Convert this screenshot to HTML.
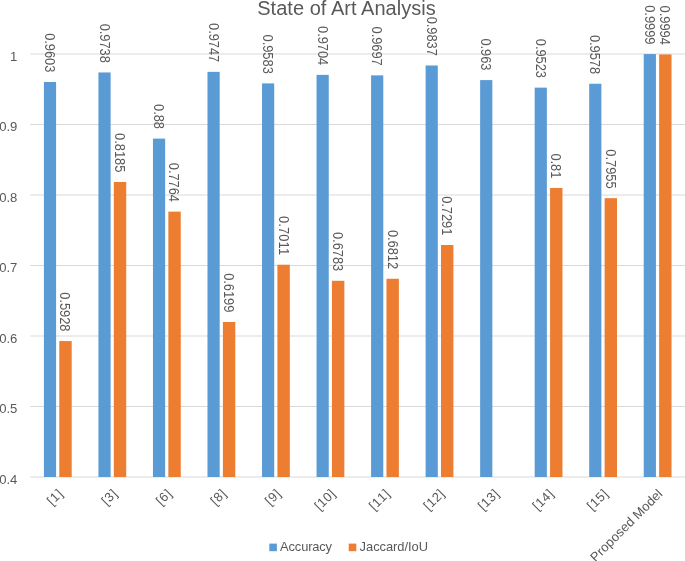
<!DOCTYPE html>
<html lang="en"><head><meta charset="utf-8"><title>State of Art Analysis</title>
<style>html,body{margin:0;padding:0;background:#fff;overflow:hidden;}svg{display:block;}text{font-family:"Liberation Sans",sans-serif;fill:#595959;}</style>
</head><body>
<svg width="685" height="561" viewBox="0 0 685 561">
<defs><filter id="soft" x="0" y="0" width="685" height="561" filterUnits="userSpaceOnUse" color-interpolation-filters="sRGB"><feGaussianBlur stdDeviation="0.35"/></filter></defs>
<rect x="0" y="0" width="685" height="561" fill="#ffffff"/>
<g filter="url(#soft)">
<rect x="-10" y="-10" width="705" height="581" fill="#ffffff"/>
<g stroke="#D9D9D9" stroke-width="1.15">
<line x1="30.3" y1="54.00" x2="685" y2="54.00"/>
<line x1="30.3" y1="124.50" x2="685" y2="124.50"/>
<line x1="30.3" y1="195.00" x2="685" y2="195.00"/>
<line x1="30.3" y1="265.50" x2="685" y2="265.50"/>
<line x1="30.3" y1="336.00" x2="685" y2="336.00"/>
<line x1="30.3" y1="406.50" x2="685" y2="406.50"/>
<line x1="30.3" y1="477.00" x2="685" y2="477.00"/>
</g>
<g font-size="13.1" text-anchor="end">
<text x="17.4" y="60.90" textLength="7.25">1</text>
<text x="17.4" y="131.40" textLength="18.11">0.9</text>
<text x="17.4" y="201.90" textLength="18.11">0.8</text>
<text x="17.4" y="272.40" textLength="18.11">0.7</text>
<text x="17.4" y="342.90" textLength="18.11">0.6</text>
<text x="17.4" y="413.40" textLength="18.11">0.5</text>
<text x="17.4" y="483.90" textLength="18.11">0.4</text>
</g>
<g fill="#5B9BD5">
<rect x="43.90" y="81.99" width="12.20" height="395.01"/>
<rect x="98.43" y="72.47" width="12.20" height="404.53"/>
<rect x="152.96" y="138.60" width="12.20" height="338.40"/>
<rect x="207.49" y="71.84" width="12.20" height="405.16"/>
<rect x="262.02" y="83.40" width="12.20" height="393.60"/>
<rect x="316.55" y="74.87" width="12.20" height="402.13"/>
<rect x="371.08" y="75.36" width="12.20" height="401.64"/>
<rect x="425.61" y="65.49" width="12.20" height="411.51"/>
<rect x="480.14" y="80.09" width="12.20" height="396.91"/>
<rect x="534.67" y="87.63" width="12.20" height="389.37"/>
<rect x="589.20" y="83.75" width="12.20" height="393.25"/>
<rect x="643.73" y="54.07" width="12.20" height="422.93"/>
</g>
<g fill="#ED7D31">
<rect x="59.30" y="341.08" width="12.40" height="135.92"/>
<rect x="113.83" y="181.96" width="12.40" height="295.04"/>
<rect x="168.36" y="211.64" width="12.40" height="265.36"/>
<rect x="222.89" y="321.97" width="12.40" height="155.03"/>
<rect x="277.42" y="264.72" width="12.40" height="212.28"/>
<rect x="331.95" y="280.80" width="12.40" height="196.20"/>
<rect x="386.48" y="278.75" width="12.40" height="198.25"/>
<rect x="441.01" y="244.98" width="12.40" height="232.02"/>
<rect x="550.07" y="187.95" width="12.40" height="289.05"/>
<rect x="604.60" y="198.17" width="12.40" height="278.83"/>
<rect x="659.13" y="54.42" width="12.40" height="422.58"/>
</g>
<g font-size="13.1" text-anchor="end">
<text transform="translate(45.10 72.39) rotate(90) scale(0.985 1.06)" textLength="39.85">0.9603</text>
<text transform="translate(99.63 62.87) rotate(90) scale(0.985 1.06)" textLength="39.85">0.9738</text>
<text transform="translate(154.16 129.00) rotate(90) scale(0.985 1.06)" textLength="25.35">0.88</text>
<text transform="translate(208.69 62.24) rotate(90) scale(0.985 1.06)" textLength="39.85">0.9747</text>
<text transform="translate(263.22 73.80) rotate(90) scale(0.985 1.06)" textLength="39.85">0.9583</text>
<text transform="translate(317.75 65.27) rotate(90) scale(0.985 1.06)" textLength="39.85">0.9704</text>
<text transform="translate(372.28 65.76) rotate(90) scale(0.985 1.06)" textLength="39.85">0.9697</text>
<text transform="translate(426.81 55.89) rotate(90) scale(0.985 1.06)" textLength="39.85">0.9837</text>
<text transform="translate(481.34 70.49) rotate(90) scale(0.985 1.06)" textLength="32.60">0.963</text>
<text transform="translate(535.87 78.03) rotate(90) scale(0.985 1.06)" textLength="39.85">0.9523</text>
<text transform="translate(590.40 74.15) rotate(90) scale(0.985 1.06)" textLength="39.85">0.9578</text>
<text transform="translate(644.93 44.47) rotate(90) scale(0.985 1.06)" textLength="39.85">0.9999</text>
<text transform="translate(60.40 331.48) rotate(90) scale(0.985 1.06)" textLength="39.85">0.5928</text>
<text transform="translate(114.93 172.36) rotate(90) scale(0.985 1.06)" textLength="39.85">0.8185</text>
<text transform="translate(169.46 202.04) rotate(90) scale(0.985 1.06)" textLength="39.85">0.7764</text>
<text transform="translate(223.99 312.37) rotate(90) scale(0.985 1.06)" textLength="39.85">0.6199</text>
<text transform="translate(278.52 255.12) rotate(90) scale(0.985 1.06)" textLength="39.85">0.7011</text>
<text transform="translate(333.05 271.20) rotate(90) scale(0.985 1.06)" textLength="39.85">0.6783</text>
<text transform="translate(387.58 269.15) rotate(90) scale(0.985 1.06)" textLength="39.85">0.6812</text>
<text transform="translate(442.11 235.38) rotate(90) scale(0.985 1.06)" textLength="39.85">0.7291</text>
<text transform="translate(551.17 178.35) rotate(90) scale(0.985 1.06)" textLength="25.35">0.81</text>
<text transform="translate(605.70 188.57) rotate(90) scale(0.985 1.06)" textLength="39.85">0.7955</text>
<text transform="translate(660.23 44.82) rotate(90) scale(0.985 1.06)" textLength="39.85">0.9994</text>
</g>
<g font-size="13" text-anchor="end">
<text transform="translate(63.46 494.60) rotate(-45)" textLength="16.02">[1]</text>
<text transform="translate(118.00 494.60) rotate(-45)" textLength="16.02">[3]</text>
<text transform="translate(172.53 494.60) rotate(-45)" textLength="16.02">[6]</text>
<text transform="translate(227.06 494.60) rotate(-45)" textLength="16.02">[8]</text>
<text transform="translate(281.58 494.60) rotate(-45)" textLength="16.02">[9]</text>
<text transform="translate(336.12 494.60) rotate(-45)" textLength="23.27">[10]</text>
<text transform="translate(390.64 494.60) rotate(-45)" textLength="23.27">[11]</text>
<text transform="translate(445.18 494.60) rotate(-45)" textLength="23.27">[12]</text>
<text transform="translate(499.70 494.60) rotate(-45)" textLength="23.27">[13]</text>
<text transform="translate(554.23 494.60) rotate(-45)" textLength="23.27">[14]</text>
<text transform="translate(608.76 494.60) rotate(-45)" textLength="23.27">[15]</text>
<text transform="translate(663.29 494.60) rotate(-45)" textLength="95.87">Proposed Model</text>
</g>
<text x="346.5" y="14.8" font-size="20" text-anchor="middle" textLength="178.51">State of Art Analysis</text>
<rect x="269.3" y="543.6" width="7.6" height="7.6" fill="#5B9BD5"/>
<text x="280.1" y="551.2" font-size="12.9" textLength="51.94">Accuracy</text>
<rect x="348.7" y="543.6" width="7.6" height="7.6" fill="#ED7D31"/>
<text x="359.6" y="551.2" font-size="12.9" textLength="68.38">Jaccard/IoU</text>
</g>
</svg>
</body></html>
